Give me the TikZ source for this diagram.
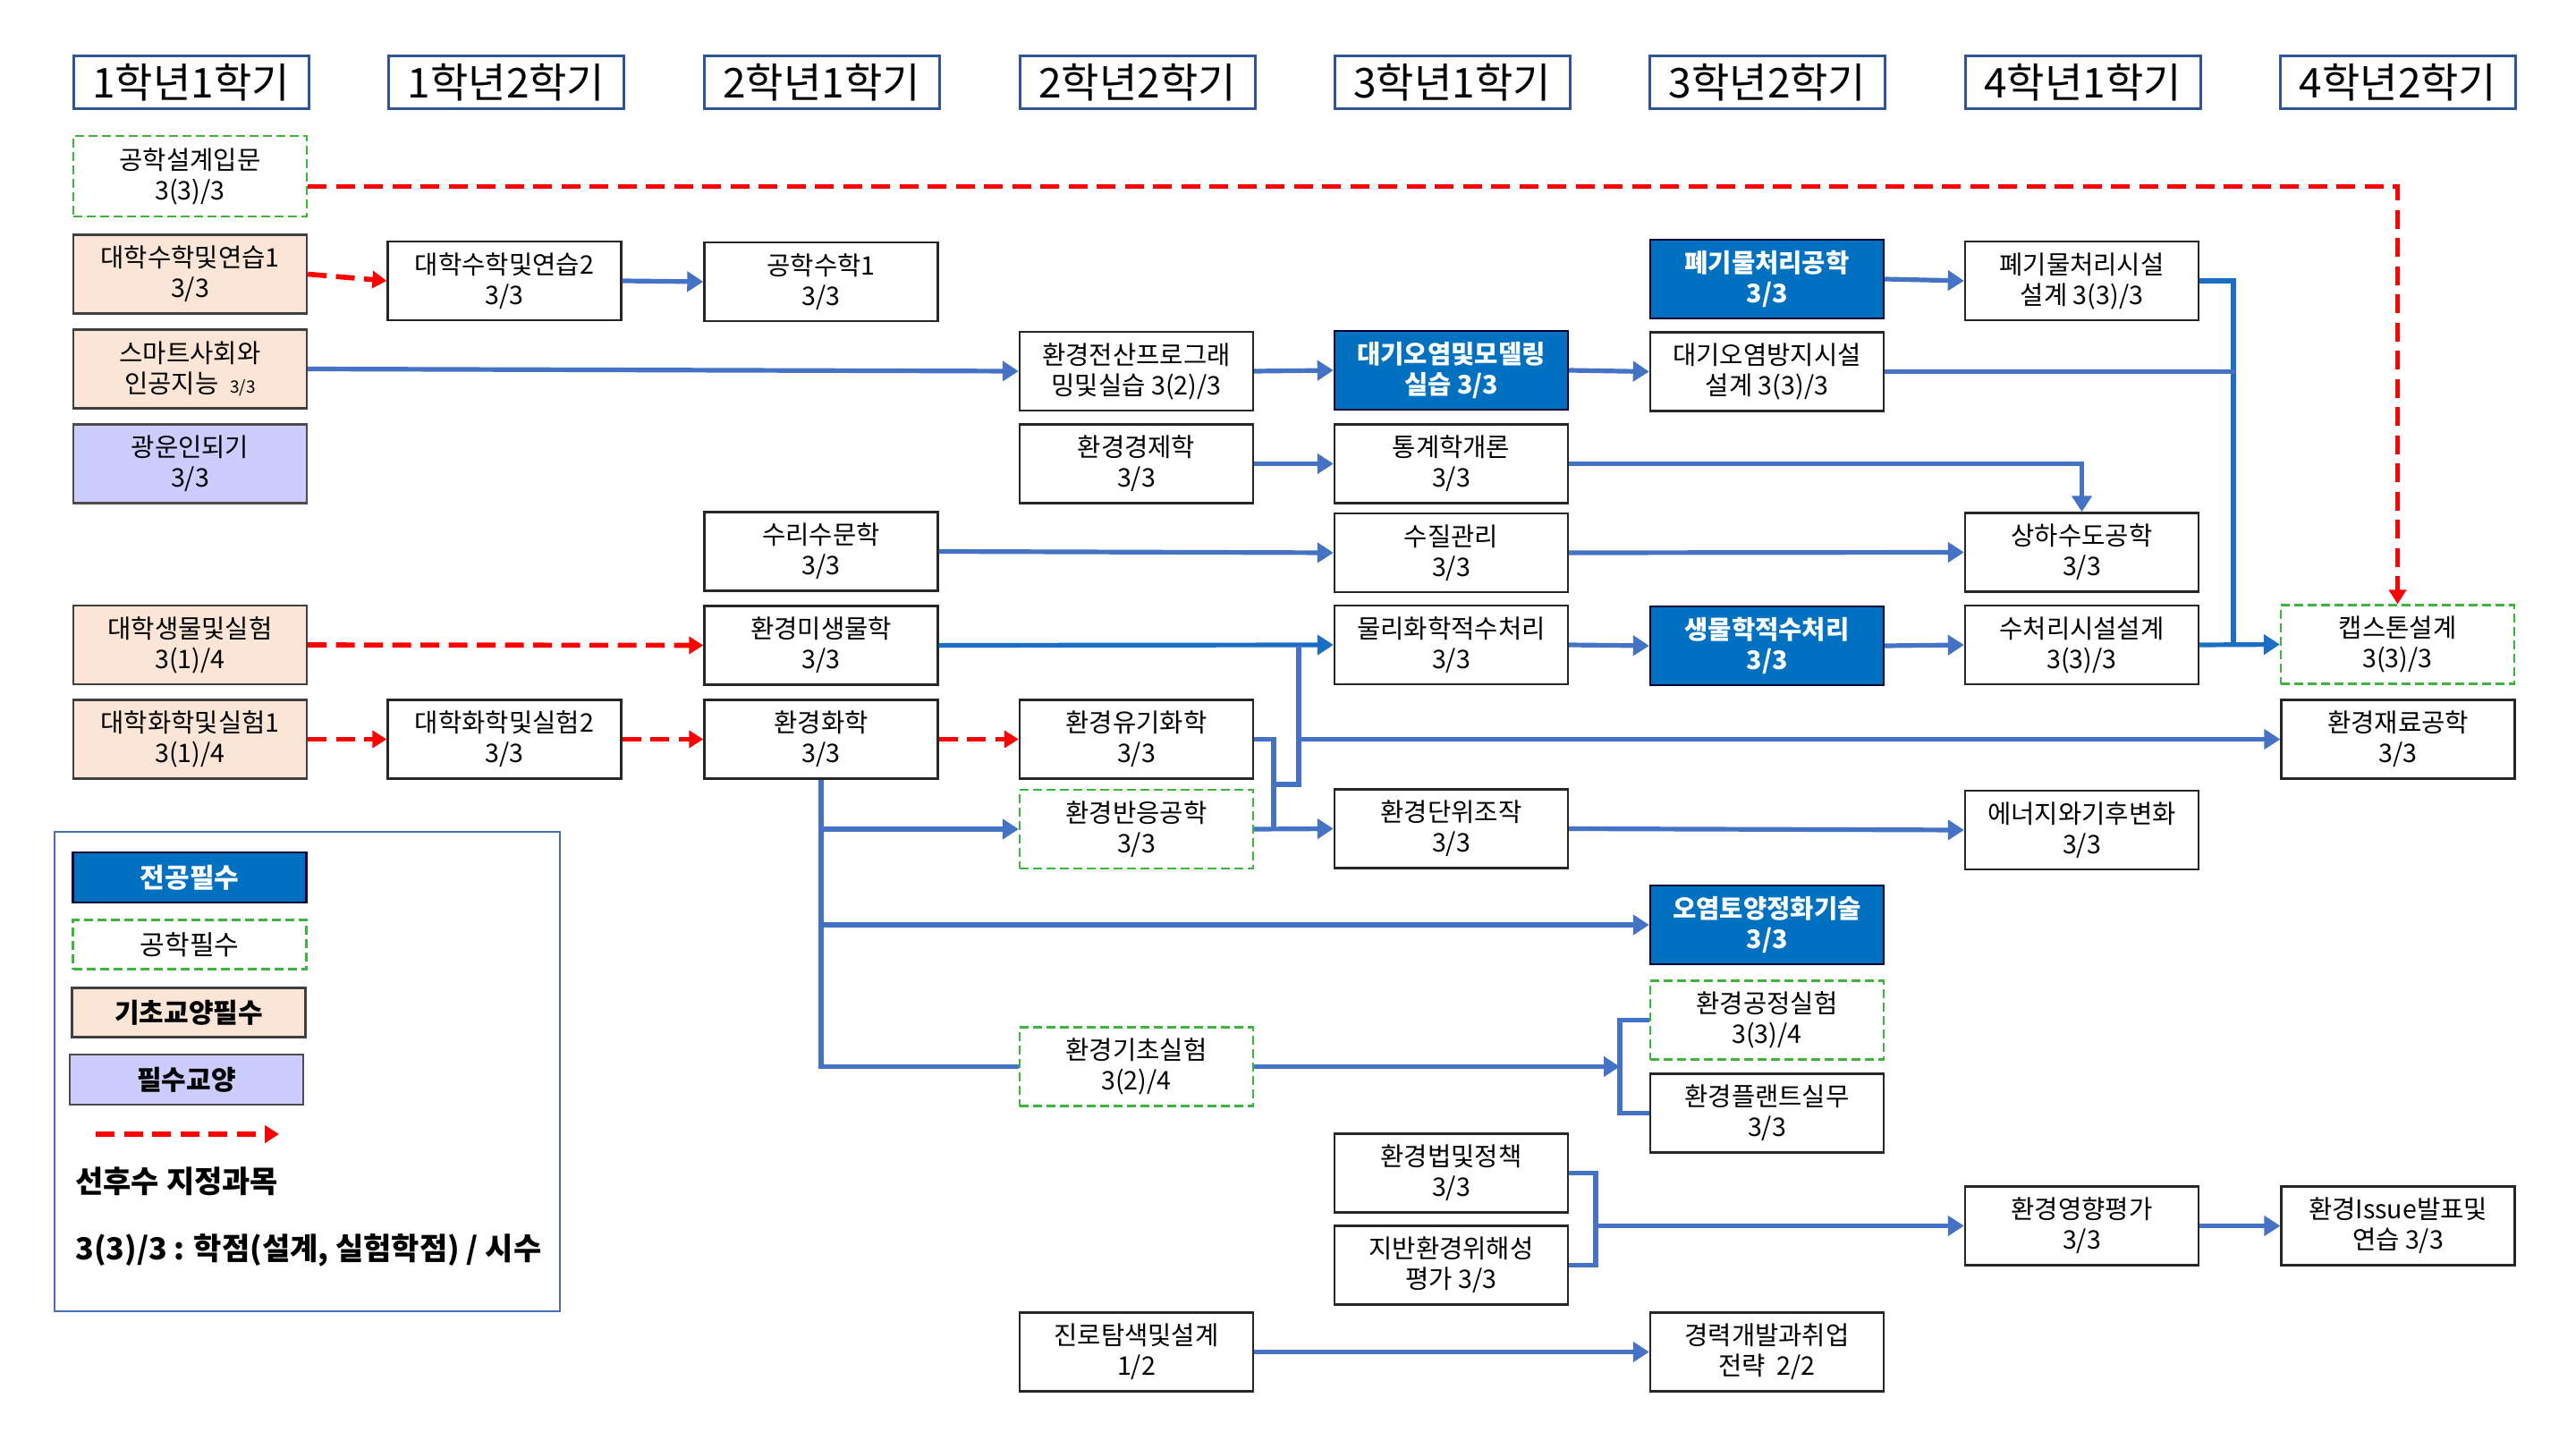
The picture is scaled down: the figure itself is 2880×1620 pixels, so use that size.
\documentclass[tikz,border=0pt]{standalone}
\usepackage{fontspec}
\setmainfont{Noto Sans CJK KR}
\usetikzlibrary{arrows.meta}
\definecolor{hdrblue}{HTML}{2F5597}
\definecolor{majblue}{HTML}{0070C0}
\definecolor{arrblue}{HTML}{4472C4}
\definecolor{darkblue}{HTML}{1A6FC4}
\definecolor{peach}{HTML}{FBE5D6}
\definecolor{lav}{HTML}{CCCCFF}
\definecolor{grn}{HTML}{3DB53D}
\definecolor{legblue}{HTML}{4A6FB0}
\tikzset{
  hdr/.style={draw=hdrblue, line width=1.5pt, minimum width=131.5pt, minimum height=29.5pt, inner sep=0pt, font=\fontsize{23pt}{27pt}\selectfont},
  box/.style={draw=black!85, line width=1.2pt, minimum width=130.5pt, minimum height=44pt, inner sep=0pt, align=center, fill=white, font=\fontsize{14.3pt}{17pt}\selectfont},
  major/.style={box, fill=majblue, draw=black!80!blue, text=white, font=\fontsize{14.3pt}{17pt}\selectfont\bfseries},
  engr/.style={box, draw=grn, line width=1.1pt, dash pattern=on 5pt off 2.5pt},
  basic/.style={box, fill=peach, draw=black!75},
  liberal/.style={box, fill=lav, draw=black!70},
  bl/.style={draw=arrblue, line width=2.6pt, -{Triangle[length=9pt,width=11pt]}},
  bln/.style={draw=arrblue, line width=2.6pt},
  dbl/.style={draw=darkblue, line width=2.6pt, -{Triangle[length=9pt,width=11pt]}},
  dbln/.style={draw=darkblue, line width=2.8pt},
  rd/.style={draw=red, line width=2.8pt, dash pattern=on 10.5pt off 5.25pt, -{Triangle[length=8pt,width=9.5pt]}},
}
\begin{document}
\begin{tikzpicture}[x=0.5pt,y=-0.5pt]
\useasboundingbox (0,0) rectangle (2880,1620);
\fill[white] (0,0) rectangle (2880,1620);

% headers
\node[hdr] (h1) at (213.5,92.5) {1학년1학기};
\node[hdr] (h2) at (566,92.5) {1학년2학기};
\node[hdr] (h3) at (918.5,92.5) {2학년1학기};
\node[hdr] (h4) at (1271.5,92.5) {2학년2학기};
\node[hdr] (h5) at (1623.5,92.5) {3학년1학기};
\node[hdr] (h6) at (1976,92.5) {3학년2학기};
\node[hdr] (h7) at (2328.5,92.5) {4학년1학기};
\node[hdr] (h8) at (2681,92.5) {4학년2학기};

% column 1
\node[engr, minimum height=45pt] (sdi) at (212.5,197) {공학설계입문\\3(3)/3};
\node[basic] (m1) at (212.5,306.5) {대학수학및연습1\\3/3};
\node[basic] (smart) at (212.5,412.5) {스마트사회와\\인공지능\ \ {\fontsize{9.5pt}{10pt}\selectfont 3/3}};
\node[liberal] (kw) at (212.5,518.5) {광운인되기\\3/3};
\node[basic] (bio) at (212.5,721) {대학생물및실험\\3(1)/4};
\node[basic] (ch1) at (212.5,826.5) {대학화학및실험1\\3(1)/4};

% column 2
\node[box] (m2) at (564,314) {대학수학및연습2\\3/3};
\node[box] (ch2) at (564,826.5) {대학화학및실험2\\3/3};

% column 3
\node[box] (em1) at (918,315) {공학수학1\\3/3};
\node[box] (hyd) at (918,616.5) {수리수문학\\3/3};
\node[box] (emb) at (918,721.5) {환경미생물학\\3/3};
\node[box] (ech) at (918,826.5) {환경화학\\3/3};

% column 4
\node[box] (ecp) at (1270.5,415) {환경전산프로그래\\밍및실습 3(2)/3};
\node[box] (ee) at (1270.5,518.5) {환경경제학\\3/3};
\node[box] (eoc) at (1270.5,826.5) {환경유기화학\\3/3};
\node[engr] (erx) at (1270.5,927) {환경반응공학\\3/3};
\node[engr] (ebx) at (1270.5,1192.5) {환경기초실험\\3(2)/4};
\node[box] (car) at (1270.5,1511.5) {진로탐색및설계\\1/2};

% column 5
\node[major] (apm) at (1622.5,414) {대기오염및모델링\\실습 3/3};
\node[box] (stat) at (1622.5,518.5) {통계학개론\\3/3};
\node[box] (wq) at (1622.5,618) {수질관리\\3/3};
\node[box] (pc) at (1622.5,721) {물리화학적수처리\\3/3};
\node[box] (euo) at (1622.5,926.5) {환경단위조작\\3/3};
\node[box] (law) at (1622.5,1311.5) {환경법및정책\\3/3};
\node[box] (geo) at (1622.5,1414.5) {지반환경위해성\\평가 3/3};

% column 6
\node[major] (wt) at (1975.5,312) {폐기물처리공학\\3/3};
\node[box] (apd) at (1975.5,415.5) {대기오염방지시설\\설계 3(3)/3};
\node[major] (bt) at (1975.5,722) {생물학적수처리\\3/3};
\node[major] (soil) at (1975.5,1034) {오염토양정화기술\\3/3};
\node[engr] (epx) at (1975.5,1140.5) {환경공정실험\\3(3)/4};
\node[box] (epl) at (1975.5,1244.5) {환경플랜트실무\\3/3};
\node[box] (job) at (1975.5,1511.5) {경력개발과취업\\전략\ \ 2/2};

% column 7
\node[box] (wtd) at (2327.5,314) {폐기물처리시설\\설계 3(3)/3};
\node[box] (ww) at (2327.5,617.5) {상하수도공학\\3/3};
\node[box] (wtf) at (2327.5,721) {수처리시설설계\\3(3)/3};
\node[box] (enc) at (2327.5,928) {에너지와기후변화\\3/3};
\node[box] (eia) at (2327.5,1370.5) {환경영향평가\\3/3};

% column 8
\node[engr] (cap) at (2680.5,720.5) {캡스톤설계\\3(3)/3};
\node[box] (emat) at (2681,826.5) {환경재료공학\\3/3};
\node[box] (iss) at (2681,1370.5) {환경Issue발표및\\연습 3/3};

% helper coordinates
\coordinate (j1) at (1424,927);
\coordinate (j3) at (1424,877);
\coordinate (j2) at (1452,877);
\coordinate (j4) at (1452,721.5);
\coordinate (j5) at (1452,826.5);
\coordinate (v1) at (2497,721);
\coordinate (v2) at (2499,415.5);
\coordinate (b1) at (1811,1192.5);
\coordinate (b2) at (1784,1370.5);

% red prerequisite arrows
\draw[rd] ([yshift=-5.8pt]sdi.east) -| (cap.north);
\draw[rd] (m1.east) -- (m2.west);
\draw[rd] (bio.east) -- (emb.west);
\draw[rd] (ch1.east) -- (ch2.west);
\draw[rd] (ch2.east) -- (ech.west);
\draw[rd] (ech.east) -- (eoc.west);

% blue arrows
\draw[bl] (m2.east) -- (em1.west);
\draw[bl] (smart.east) -- (ecp.west);
\draw[bl] (ecp.east) -- (apm.west);
\draw[bl] (apm.east) -- (apd.west);
\draw[bl] (wt.east) -- (wtd.west);
\draw[bl] (ee.east) -- (stat.west);
\draw[bl] (stat.east) -| (ww.north);
\draw[bl] (hyd.east) -- (wq.west);
\draw[bl] (wq.east) -- (ww.west);
\draw[dbl] (emb.east) -- (pc.west);
\draw[bl] (pc.east) -- (bt.west);
\draw[bl] (bt.east) -- (wtf.west);
\draw[dbln] (wtd.east) -| (v1);
\draw[bln] (apd.east) -- (v2);
\draw[dbl] (wtf.east) -- (cap.west);

% environmental chemistry trunk
\draw[bln] (ech.south) |- (ebx.west);
\draw[bl] (ech.south |- erx.west) -- (erx.west);
\draw[bl] (ech.south |- soil.west) -- (soil.west);

% organic chemistry network
\draw[bl] (erx.east) -- (euo.west);
\draw[bln] (eoc.east) -| (j1);
\draw[bln] (j3) -- (j2) -- (j4);
\draw[bl] (j5) -- (emat.west);
\draw[bl] (euo.east) -- (enc.west);

% brackets
\draw[bl] (ebx.east) -- (b1);
\draw[bln] (epx.west) -| (b1);
\draw[bln] (epl.west) -| (b1);
\draw[bln] (law.east) -| (b2);
\draw[bln] (geo.east) -| (b2);
\draw[bl] (b2) -- (eia.west);
\draw[bl] (eia.east) -- (iss.west);
\draw[bl] (car.east) -- (job.west);

% legend
\node[draw=legblue, line width=1.4pt, minimum width=282.5pt, minimum height=268pt, inner sep=0pt] (leg) at (343.5,1198) {};
\node[major, minimum height=28pt, font=\fontsize{15pt}{17pt}\selectfont\bfseries] (lg1) at (212,981) {전공필수};
\node[engr, minimum height=27.5pt, font=\fontsize{15pt}{17pt}\selectfont] (lg2) at (212,1056) {공학필수};
\node[basic, minimum height=27.5pt, font=\fontsize{15pt}{17pt}\selectfont\bfseries] (lg3) at (211,1132) {기초교양필수};
\node[liberal, minimum height=28pt, font=\fontsize{15pt}{17pt}\selectfont\bfseries] (lg4) at (208.5,1207) {필수교양};
\coordinate (la1) at (107,1268);
\coordinate (la2) at (312,1268);
\draw[rd] (la1) -- (la2);
\node[anchor=west, inner sep=0pt, font=\fontsize{17pt}{19pt}\selectfont\bfseries] (lt1) at (84,1321) {선후수 지정과목};
\node[anchor=west, inner sep=0pt, font=\fontsize{17pt}{19pt}\selectfont\bfseries] (lt2) at (84,1398) {3(3)/3 : 학점(설계, 실험학점) / 시수};
\end{tikzpicture}
\end{document}
